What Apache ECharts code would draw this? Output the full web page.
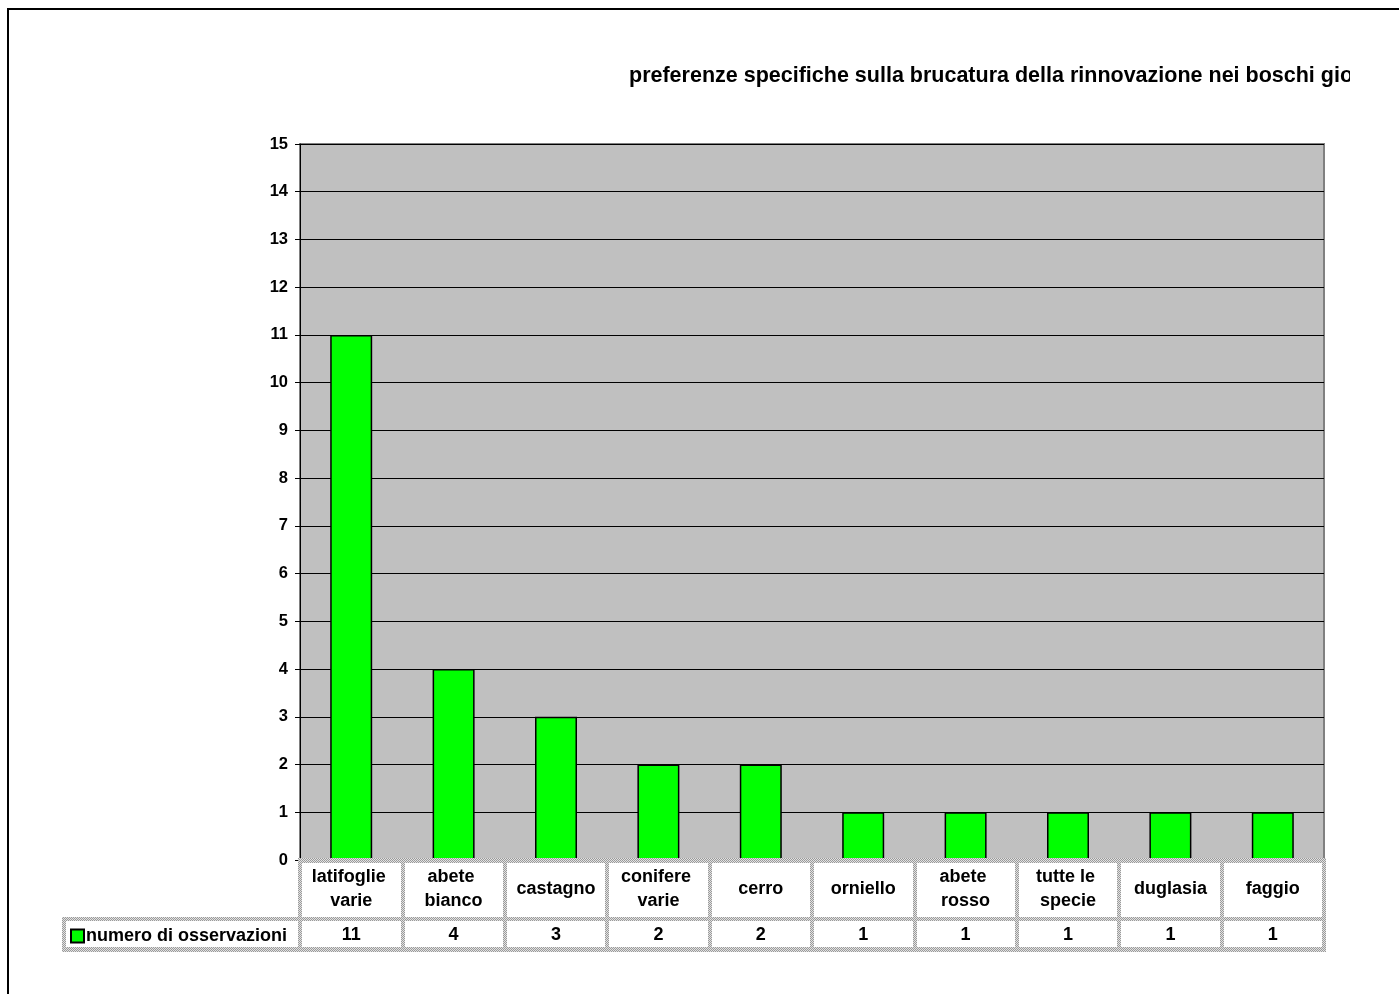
<!DOCTYPE html>
<html>
<head>
<meta charset="utf-8">
<script src="https://cdn.jsdelivr.net/npm/echarts@6/dist/echarts.min.js"></script>
<style>
  html, body { margin: 0; padding: 0; background: #fff; }
  #chart { width: 1399px; height: 994px; }
</style>
</head>
<body>
<div id="chart"></div>
<script>
const titleText = 'preferenze specifiche sulla brucatura della rinnovazione nei boschi giovani'
const seriesName = 'numero di osservazioni'
const categories = ['latifoglie varie', 'abete bianco', 'castagno', 'conifere varie', 'cerro', 'orniello', 'abete rosso', 'tutte le specie', 'duglasia', 'faggio']
const values = [11, 4, 3, 2, 2, 1, 1, 1, 1, 1]
const yTicks = { min: 0, max: 15, interval: 1 }

// area del grafico (pixel)
const G = { left: 300, right: 75, top: 144, bottom: 134 }
const W = 1399
const H = 994
const plotBottom = H - G.bottom
const plotRight = W - G.right
const titleClipX = 1350
const font = '"Liberation Sans", Arial, sans-serif'

// motivo a puntini per i bordi della tabella dati
function hatch() {
  const c = document.createElement('canvas')
  c.width = 2
  c.height = 2
  const ctx = c.getContext('2d')
  ctx.fillStyle = '#e2e2e2'
  ctx.fillRect(0, 0, 2, 2)
  ctx.fillStyle = '#9a9a9a'
  ctx.fillRect(0, 0, 1, 1)
  ctx.fillRect(1, 1, 1, 1)
  return c
}
const hatchFill = { image: hatch(), repeat: 'repeat' }

const rowMid = plotBottom + 57
const rowEnd = plotBottom + 92
const tableLines = [
  { x: G.left - 2, y: plotBottom - 2, w: plotRight - G.left + 4, h: 5 },
  { x: 62, y: rowMid, w: plotRight - 62 + 2, h: 4 },
  { x: 62, y: rowEnd - 5, w: plotRight - 62 + 2, h: 5 },
  { x: 62, y: rowMid, w: 4, h: rowEnd - rowMid },
]

const chart = echarts.init(document.getElementById('chart'))
const option = {
  animation: false,
  backgroundColor: '#fff',
  title: {
    text: titleText,
    left: 629,
    top: 65,
    padding: 0,
    textStyle: {
      fontFamily: font,
      fontSize: 21.5,
      fontWeight: 'bold',
      color: '#000',
    },
  },
  legend: {
    left: 70,
    top: plotBottom + 67,
    padding: 0,
    itemWidth: 13,
    itemHeight: 13,
    itemGap: 0,
    icon: 'rect',
    data: [seriesName],
    itemStyle: { borderColor: '#000', borderWidth: 2 },
    textStyle: { fontFamily: font, fontSize: 18, fontWeight: 'bold', color: '#000', padding: [0, 0, 0, -3] },
  },
  grid: { left: G.left, right: G.right, top: G.top, bottom: G.bottom, show: true, backgroundColor: '#c0c0c0', borderColor: '#808080', borderWidth: 2 },
  xAxis: [
    {
      type: 'category',
      data: categories,
      position: 'bottom',
      axisLine: { show: false },
      axisTick: { show: true, interval: 0, length: 92, lineStyle: { color: hatchFill, width: 4 } },
      axisLabel: {
        interval: 0,
        margin: 29,
        verticalAlign: 'middle',
        fontFamily: font,
        fontSize: 18,
        fontWeight: 'bold',
        color: '#000',
        lineHeight: 24,
        width: 96,
        overflow: 'break',
      },
    },
    {
      type: 'category',
      data: values.map(String),
      position: 'bottom',
      offset: 0,
      axisLine: { show: false },
      axisTick: { show: false },
      axisLabel: {
        interval: 0,
        margin: 75,
        verticalAlign: 'middle',
        fontFamily: font,
        fontSize: 18,
        fontWeight: 'bold',
        color: '#000',
      },
    },
  ],
  yAxis: {
    type: 'value',
    min: yTicks.min,
    max: yTicks.max,
    interval: yTicks.interval,
    axisLine: { show: true, lineStyle: { color: '#000', width: 1 } },
    axisTick: { show: true, length: 5, lineStyle: { color: '#000' } },
    axisLabel: { margin: 12, fontFamily: font, fontSize: 16.5, fontWeight: 'bold', color: '#000' },
    splitLine: { show: true, lineStyle: { color: '#000', width: 1 } },
  },
  series: [
    {
      name: seriesName,
      type: 'bar',
      xAxisIndex: 0,
      data: values,
      barWidth: '41%',
      itemStyle: { color: '#00ff00', borderColor: '#000', borderWidth: 1.5 },
    },
  ],
  graphic: [
    // il titolo è tagliato sul bordo destro, come nell'originale
    {
      type: 'rect',
      silent: true,
      z: 100,
      shape: { x: titleClipX, y: 40, width: W - titleClipX, height: 70 },
      style: { fill: '#fff' },
    },
    {
      type: 'rect',
      silent: true,
      z: 101,
      shape: { x: 8, y: 9, width: 1500, height: 1100 },
      style: { fill: 'none', stroke: '#000', lineWidth: 2 },
    },
    ...tableLines.map(r => ({
      type: 'rect',
      silent: true,
      z: 10,
      shape: { x: r.x, y: r.y, width: r.w, height: r.h },
      style: { fill: hatchFill },
    })),
  ],
}
chart.setOption(option)
</script>
</body>
</html>
